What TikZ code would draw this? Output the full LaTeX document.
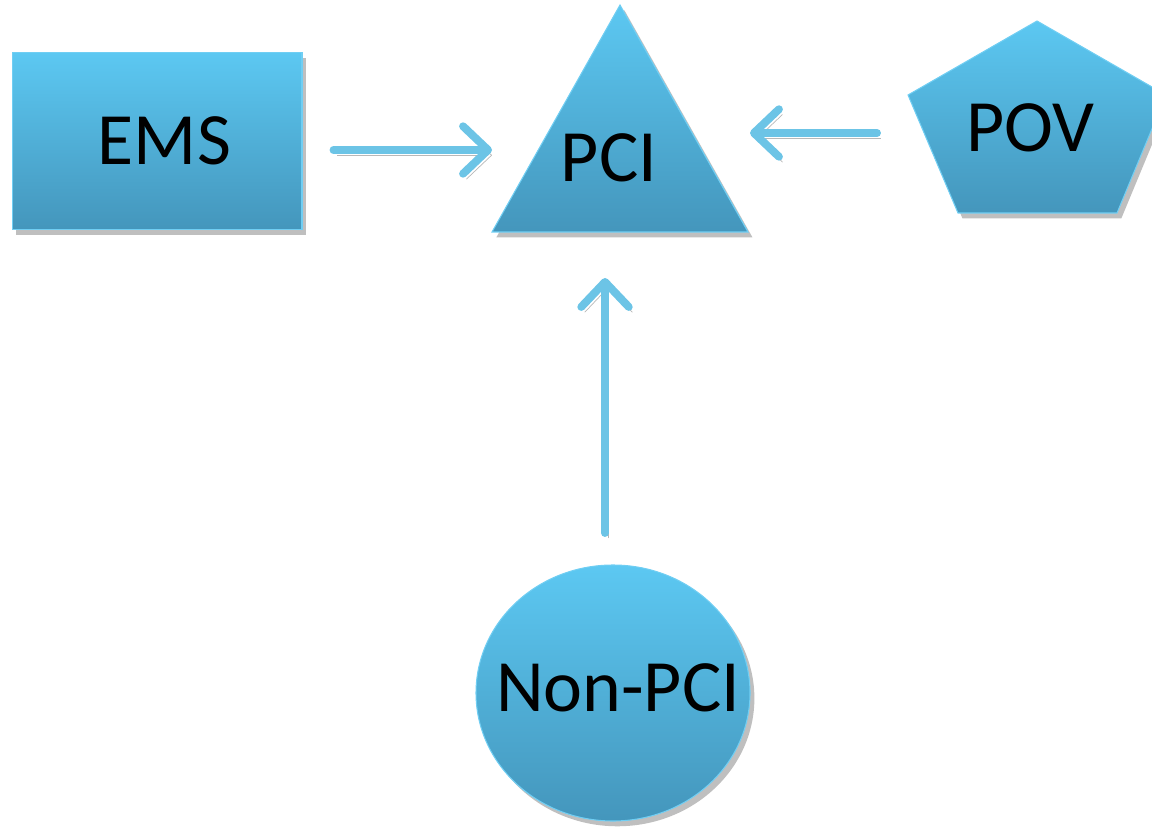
\documentclass[tikz,border=0pt]{standalone}
\usepackage{fontspec}
\setmainfont{Carlito}
\usetikzlibrary{shapes.geometric, arrows.meta, shadows}
\definecolor{shapetop}{HTML}{5CC8F2}
\definecolor{shapebottom}{HTML}{4496BC}
\definecolor{shapeedge}{HTML}{70CEF3}
\definecolor{arrowblue}{HTML}{6CC4E6}

\begin{document}
\begin{tikzpicture}[
        x=0.02cm, y=-0.02cm,
        >={Straight Barb[length=5mm, width=9.5mm, line cap=round, line join=round]},
        blockfill/.style={top color=shapetop, bottom color=shapebottom, draw=shapeedge, line width=0.6pt,
            drop shadow={shadow xshift=2.5pt, shadow yshift=-3pt, fill=black, opacity=0.25}},
        label/.style={font=\fontsize{42}{50}\selectfont, text=black},
        link/.style={->, draw=arrowblue, line width=4.5pt, line cap=round,
            preaction={draw=black!35, opacity=0.8, transform canvas={xshift=2pt, yshift=-3pt}}}
    ]
        \useasboundingbox (0,0) rectangle (1152,827);

        % EMS box
        \node[blockfill, rectangle, minimum width=5.8cm, minimum height=3.54cm, label] (EMS) at (157,141) {\hspace{0.3cm}EMS};

        % PCI triangle
        \coordinate (pcitop) at (620,5);
        \coordinate (pcileft) at (492,232);
        \coordinate (pciright) at (748,232);
        \path[blockfill] (pcitop) -- (pciright) -- (pcileft) -- cycle;
        \node[label] (PCI) at (609,158) {PCI};

        % POV pentagon (cut by the right edge)
        \coordinate (povtop) at (1037,21);
        \coordinate (povleft) at (908,95);
        \path[blockfill] (povtop) -- (1166,95) -- (1117,213) -- (958,213) -- (povleft) -- cycle;
        \node[label] (POV) at (1030,128) {POV};

        % Non-PCI circle
        \coordinate (nontop) at (613,565);
        \path[blockfill] (613,693) ellipse [x radius=137, y radius=128];
        \node[label] (NonPCI) at (618,688) {Non-PCI};

        % Connectors
        \draw[link] ([shift={(31,9)}]EMS.east) -- ([shift={(0,-82)}]pcileft);
        \draw[link] ([shift={(-31,38)}]povleft) -- ([shift={(258,-99)}]pcileft);
        \draw[link] ([shift={(-8,-32)}]nontop) -- ([shift={(113,46)}]pcileft);

    \end{tikzpicture}
\end{document}
